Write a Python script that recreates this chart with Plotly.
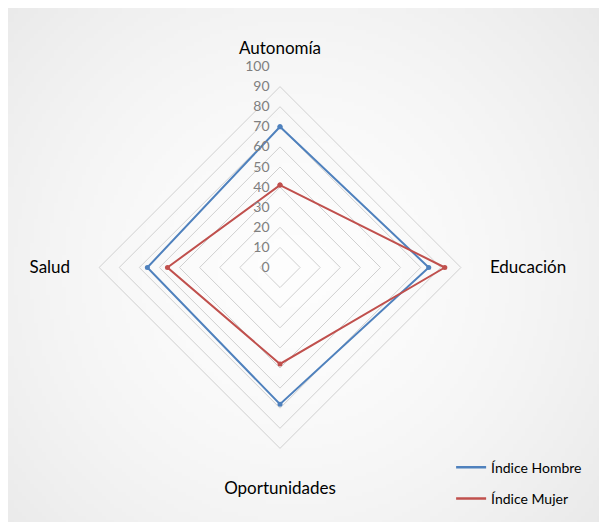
import base64
import struct
import zlib

import plotly.graph_objects as go

categories = ["Autonomía", "Educación", "Oportunidades", "Salud"]
hombre = [70, 74, 68, 66]
mujer = [41, 82, 48, 56]
radial_ticks = [0, 10, 20, 30, 40, 50, 60, 70, 80, 90, 100]
series_names = ["Índice Hombre", "Índice Mujer"]
series_colors = ["#4f81bd", "#c0504d"]

W, H = 607, 522
OFF = 8  # page body margin
cx, cy, R = 280 - OFF, 267.5 - OFF, 201


def closed(v):
    return list(v) + [v[0]]


def gradient_png(w, h, inner=253, outer=233):
    """Soft radial grey gradient used as the chart-area background."""
    rows = []
    ccx, ccy = w * 0.47, h * 0.5
    dmax = ((w / 2) ** 2 + (h / 2) ** 2) ** 0.5
    for j in range(h):
        row = bytearray([0])
        for i in range(w):
            t = min(1.0, (((i - ccx) ** 2 + (j - ccy) ** 2) ** 0.5) / dmax)
            v = int(round(inner - (inner - outer) * t ** 1.6))
            row += bytes([v, v, v])
        rows.append(bytes(row))
    raw = b"".join(rows)

    def chunk(tag, data):
        c = struct.pack(">I", len(data)) + tag + data
        return c + struct.pack(">I", zlib.crc32(tag + data) & 0xFFFFFFFF)

    png = b"\x89PNG\r\n\x1a\n"
    png += chunk(b"IHDR", struct.pack(">IIBBBBB", w, h, 8, 2, 0, 0, 0))
    png += chunk(b"IDAT", zlib.compress(raw, 9))
    png += chunk(b"IEND", b"")
    return "data:image/png;base64," + base64.b64encode(png).decode()


fig = go.Figure()
for name, vals, col in zip(series_names, [hombre, mujer], series_colors):
    fig.add_trace(go.Scatterpolar(
        r=closed(vals), theta=closed(categories), name=name,
        mode="lines+markers", line=dict(color=col, width=2),
        marker=dict(size=5, color=col), showlegend=False, legendgroup=name,
    ))
for name, col in zip(series_names, series_colors):
    fig.add_trace(go.Scatterpolar(
        r=[None], theta=[categories[0]], name=name, mode="lines",
        line=dict(color=col, width=2.5), showlegend=True, legendgroup=name,
    ))

fig.update_layout(
    width=W, height=H,
    margin=dict(l=0, r=0, t=0, b=0),
    paper_bgcolor="#f5f5f5",
    images=[dict(
        source=gradient_png(152, 130), xref="paper", yref="paper",
        x=0, y=1, sizex=1, sizey=1, xanchor="left", yanchor="top",
        sizing="stretch", layer="below",
    )],
    font=dict(family="Lato, Open Sans, sans-serif", color="#000000"),
    polar=dict(
        domain=dict(x=[(cx - R) / W, (cx + R) / W],
                    y=[(H - cy - R) / H, (H - cy + R) / H]),
        gridshape="linear",
        bgcolor="rgba(0,0,0,0)",
        radialaxis=dict(
            range=[0, 100], tickvals=radial_ticks,
            ticktext=[str(t) for t in radial_ticks],
            angle=90, side="counterclockwise", tickangle=90,
            showline=False, ticks="outside", ticklen=5,
            tickcolor="rgba(0,0,0,0)",
            gridcolor="#d0d0d0", gridwidth=1,
            tickfont=dict(size=14, color="#7f7f7f"),
        ),
        angularaxis=dict(
            direction="clockwise", rotation=90,
            showgrid=False, showline=False,
            ticks="outside", ticklen=5, tickcolor="rgba(0,0,0,0)",
            tickfont=dict(size=17, color="#000000"),
        ),
    ),
    legend=dict(
        x=0.73, y=0.15, xanchor="left", yanchor="top",
        bgcolor="rgba(0,0,0,0)", font=dict(size=14),
        tracegroupgap=10, itemwidth=30,
    ),
)

fig.write_html("out.html")
